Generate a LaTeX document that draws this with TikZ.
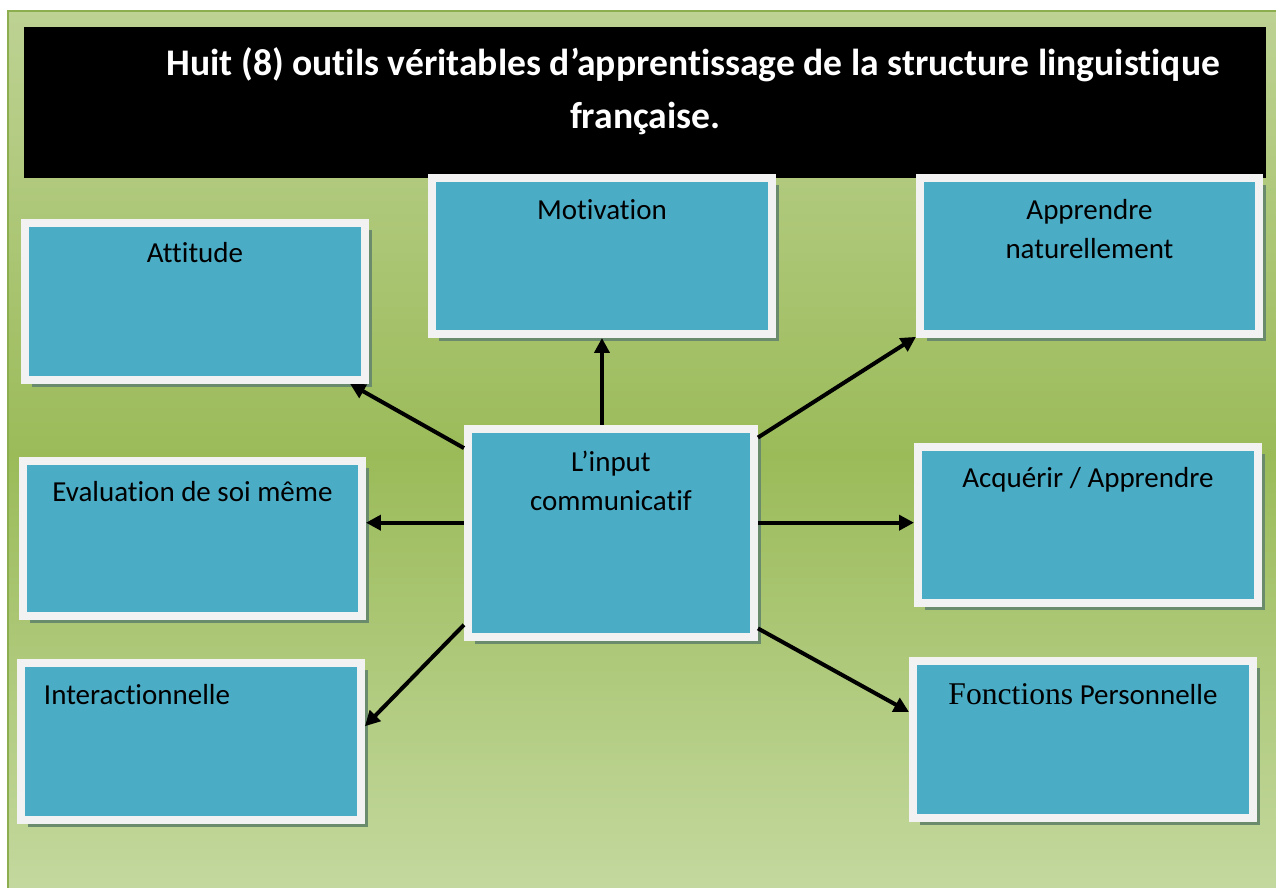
\documentclass[tikz,border=0pt]{standalone}
\usepackage{fontspec}
\setmainfont{Carlito}[Ligatures=NoCommon]
\newfontfamily\serifpart{Liberation Serif}
\usetikzlibrary{arrows.meta,shadows}
\definecolor{boxblue}{HTML}{4BACC6}
\definecolor{boxedge}{HTML}{F2F2F2}
\definecolor{boxshade}{HTML}{6A8C6C}
\definecolor{bgtop}{HTML}{BDD293}
\definecolor{bgmid}{HTML}{9BBB59}
\definecolor{bgbot}{HTML}{C4D9A0}
\definecolor{bgline}{HTML}{8DAE4E}

\begin{document}
\begin{tikzpicture}[x=0.02cm, y=-0.02cm,
  outil/.style={anchor=north west, fill=boxblue, draw=boxedge, line width=0.16cm, inner sep=0pt, align=center,
    font=\fontsize{16.5}{22.7}\selectfont,
    drop shadow={shadow xshift=0.14cm, shadow yshift=-0.14cm, fill=boxshade, opacity=1}},
  fleche/.style={-{Triangle[length=0.3cm,width=0.3cm]}, line width=0.08cm}]
\useasboundingbox (0,0) rectangle (1276,888);
\clip (0,0) rectangle (1276,888);
\shade[top color=bgtop, bottom color=bgbot, middle color=bgmid] (8,11) rectangle (1290,900);
\draw[bgline, line width=0.04cm] (8,11) rectangle (1290,900);
\node[anchor=north west, fill=black, text=white, inner sep=0pt, minimum width=24.84cm, text height=2.02cm, text depth=1.0cm,
  align=center, font=\bfseries\fontsize{21.4}{30}\selectfont] (titre) at (24,27)
  {\hspace*{1.92cm}Huit (8) outils véritables d’apprentissage de la structure linguistique\\française.};
\node[outil, minimum width=6.8cm, text height=0.8cm, text depth=2.34cm] (attitude) at (21,219) {Attitude};
\node[outil, minimum width=6.8cm, text height=0.84cm, text depth=2.28cm] (motivation) at (428,174) {Motivation};
\node[outil, minimum width=6.78cm, text height=1.62cm, text depth=1.5cm] (naturel) at (916,174) {Apprendre\\naturellement};
\node[outil, minimum width=6.78cm, text height=0.82cm, text depth=2.28cm] (evaluation) at (19,457) {Evaluation de soi même};
\node[outil, minimum width=5.72cm, text height=1.64cm, text depth=2.52cm] (input) at (464,425) {L’input\\communicatif};
\node[outil, minimum width=6.8cm, text height=0.82cm, text depth=2.3cm] (acquerir) at (914,443) {Acquérir / Apprendre};
\node[outil, align=left, text width=5.88cm, inner xsep=0.46cm, text height=0.84cm, text depth=2.3cm] (interaction) at (17,659) {Interactionnelle};
\node[outil, minimum width=6.8cm, text height=0.88cm, text depth=2.26cm] (fonctions) at (909,657) {{\serifpart\fontsize{18}{22}\selectfont Fonctions} Personnelle};
\draw[fleche] (input.north -| motivation.south) -- (motivation.south);
\draw[fleche] (input.150) -- (attitude.332);
\draw[fleche] (input.33) -- (naturel.205);
\draw[fleche] (input.176) -- (input.176 -| evaluation.east);
\draw[fleche] (input.4) -- (input.4 -| acquerir.west);
\draw[fleche] (input.212) -- (interaction.5);
\draw[fleche] (input.327) -- (fonctions.171);
\end{tikzpicture}
\end{document}
